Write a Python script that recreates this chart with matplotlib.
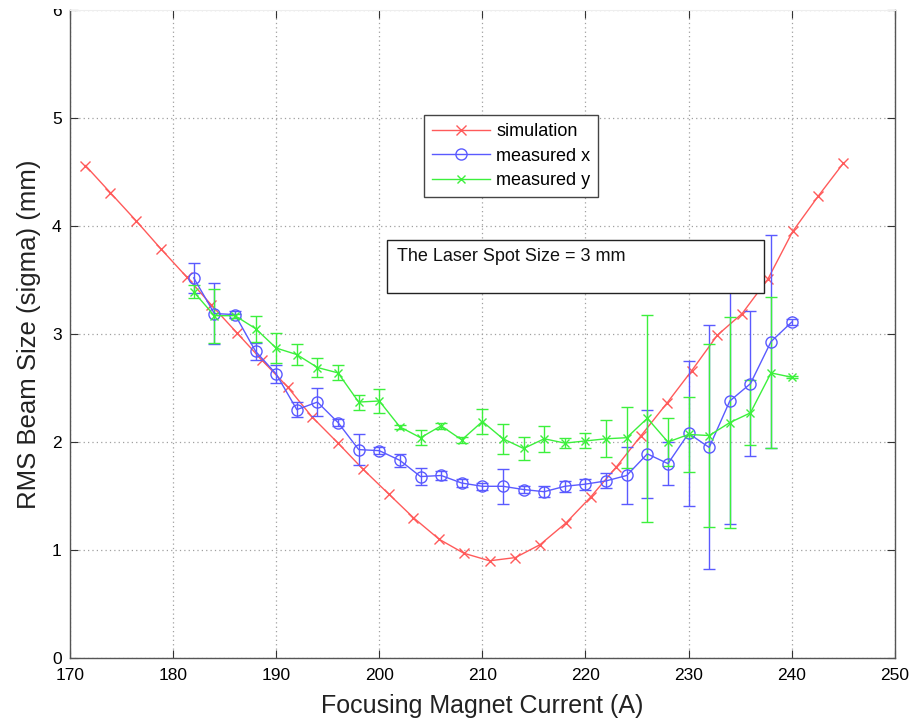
import matplotlib
matplotlib.use("Agg")
import matplotlib.pyplot as plt
from matplotlib.patches import Rectangle
from matplotlib.transforms import Bbox

plt.rcParams['font.family'] = ['Liberation Sans', 'DejaVu Sans']

# simulated beam size vs focusing current
sim_current = [171.5, 173.9, 176.4, 178.8, 181.3, 183.7, 186.2, 188.6, 191.1, 193.5,
               196.0, 198.4, 200.9, 203.3, 205.8, 208.2, 210.7, 213.2, 215.6, 218.1,
               220.5, 223.0, 225.4, 227.9, 230.3, 232.8, 235.2, 237.7, 240.1, 242.6, 245.0]
sim_size = [4.56, 4.31, 4.05, 3.79, 3.53, 3.27, 3.01, 2.76, 2.51, 2.23,
            1.99, 1.75, 1.52, 1.30, 1.10, 0.97, 0.90, 0.93, 1.05, 1.25,
            1.49, 1.77, 2.06, 2.36, 2.66, 2.99, 3.19, 3.51, 3.95, 4.28, 4.58]

# measurements
meas_current = [182, 184, 186, 188, 190, 192, 194, 196, 198, 200,
                202, 204, 206, 208, 210, 212, 214, 216, 218, 220,
                222, 224, 226, 228, 230, 232, 234, 236, 238, 240]
size_x = [3.52, 3.19, 3.18, 2.84, 2.63, 2.30, 2.37, 2.18, 1.93, 1.92,
          1.83, 1.68, 1.69, 1.62, 1.59, 1.59, 1.56, 1.54, 1.59, 1.61,
          1.64, 1.69, 1.89, 1.80, 2.08, 1.95, 2.38, 2.54, 2.93, 3.11]
err_x = [0.14, 0.28, 0.03, 0.08, 0.08, 0.07, 0.13, 0.03, 0.14, 0.03,
         0.06, 0.08, 0.04, 0.04, 0.03, 0.16, 0.03, 0.05, 0.05, 0.05,
         0.07, 0.26, 0.41, 0.20, 0.67, 1.13, 1.14, 0.67, 0.99, 0.03]
size_y = [3.39, 3.17, 3.17, 3.05, 2.87, 2.81, 2.69, 2.64, 2.37, 2.38,
          2.14, 2.04, 2.15, 2.02, 2.19, 2.03, 1.94, 2.03, 1.99, 2.01,
          2.03, 2.04, 2.22, 2.00, 2.07, 2.06, 2.18, 2.27, 2.64, 2.60]
err_y = [0.06, 0.25, 0.02, 0.12, 0.14, 0.10, 0.09, 0.07, 0.07, 0.11,
         0.02, 0.07, 0.03, 0.03, 0.12, 0.14, 0.11, 0.12, 0.05, 0.07,
         0.17, 0.28, 0.96, 0.22, 0.35, 0.85, 0.98, 0.30, 0.70, 0.01]

red = '#ff5a5a'
blue = '#5a5aff'
green = '#3cf03c'

fig = plt.figure(figsize=(9.13, 7.21), dpi=100)
ax = fig.add_axes([0.0767, 0.0874, 0.9033, 0.8986])

sim_line, = ax.plot(sim_current, sim_size, '-x', color=red, lw=1.0, ms=7, mew=1.0)
ex = ax.errorbar(meas_current, size_x, yerr=err_x, fmt='-o', color=blue, lw=1.0, ms=8,
                 mfc='none', mew=1.0, elinewidth=1.0, capsize=4, capthick=1.0)
ey = ax.errorbar(meas_current, size_y, yerr=err_y, fmt='-x', color=green, lw=1.0, ms=6,
                 mew=1.0, elinewidth=1.0, capsize=4, capthick=1.0)

ax.set_xlim(170, 250)
ax.set_ylim(0, 6)
ax.set_xticks(range(170, 251, 10))
ax.set_yticks(range(0, 7))
ax.grid(True, color='#a0a0a0', linestyle=(0, (1, 2.5)), linewidth=0.9)
ax.tick_params(direction='in', length=6, width=0.8, top=True, right=True,
               labelsize=12.5, colors='#333333', labelcolor='black')
ax.tick_params(axis='x', pad=7)
ax.tick_params(axis='y', pad=6)
for side in ['left', 'bottom', 'right']:
    ax.spines[side].set_color('#555555')
    ax.spines[side].set_linewidth(1.0)
ax.spines['top'].set_color('#eeeeee')

# top tick label is cut off at the upper edge
clip = Bbox.from_extents(0, 0, 913, 712)
for lab in ax.get_yticklabels():
    lab.set_clip_on(True)
    lab.set_clip_box(clip)

ax.set_xlabel('Focusing Magnet Current (A)', fontsize=18, labelpad=8, color='#222222')
ax.set_ylabel('RMS Beam Size (sigma) (mm)', fontsize=18.5, labelpad=8, color='#222222')

leg = ax.legend([sim_line, ex[0], ey[0]], ['simulation', 'measured x', 'measured y'],
                loc='upper left', bbox_to_anchor=(0.429, 0.838), borderaxespad=0,
                fontsize=13, handlelength=3.2, handletextpad=0.35, labelspacing=0.42,
                fancybox=False, framealpha=1, edgecolor='#444444', borderpad=0.45)
leg.get_frame().set_linewidth(1.0)

# text box with the laser spot size
ax.add_patch(Rectangle((0.384, 0.563), 0.457, 0.082, transform=ax.transAxes,
                       facecolor='white', edgecolor='#222222', lw=1.0, zorder=4))
ax.text(0.396, 0.619, 'The Laser Spot Size = 3 mm', transform=ax.transAxes,
        fontsize=13, va='center', ha='left', color='#111111', zorder=5)

fig.savefig('out.png', dpi=100)
